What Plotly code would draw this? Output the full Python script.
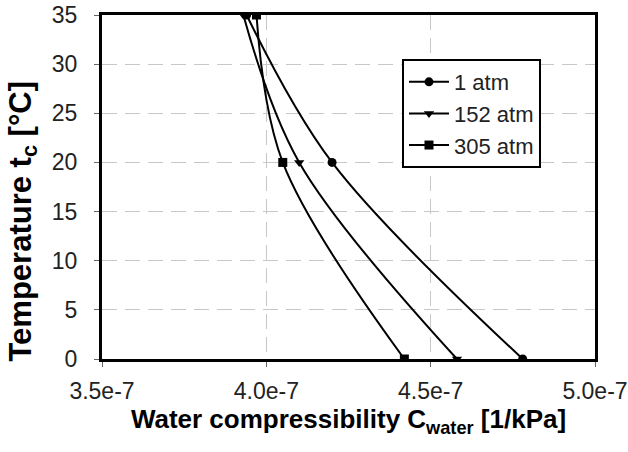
import plotly.graph_objects as go

temps = [0, 20, 35]
c_1atm = [4.78e-7, 4.20e-7, 3.94e-7]
c_152atm = [4.58e-7, 4.10e-7, 3.93e-7]
c_305atm = [4.42e-7, 4.05e-7, 3.97e-7]

series = [
    ("1 atm", c_1atm, "circle"),
    ("152 atm", c_152atm, "triangle-down"),
    ("305 atm", c_305atm, "square"),
]

x_ticks = [3.5e-7, 4.0e-7, 4.5e-7, 5.0e-7]
x_tick_labels = ["3.5e-7", "4.0e-7", "4.5e-7", "5.0e-7"]
y_ticks = [0, 5, 10, 15, 20, 25, 30, 35]

x_title = "<b>Water compressibility C<sub>water</sub> [1/kPa]</b>"
y_title = "<b>Temperature t<sub>c</sub> [°C]</b>"

FONT = "Liberation Sans, Arial, sans-serif"

fig = go.Figure()
for name, vals, sym in series:
    fig.add_trace(go.Scatter(
        x=vals, y=temps, name=name, mode="lines+markers",
        line=dict(color="black", width=2, shape="spline", smoothing=1.0),
        marker=dict(symbol=sym, size=9, color="black"),
    ))

fig.update_layout(
    width=628, height=452,
    margin=dict(l=102, r=33, t=15, b=93, autoexpand=False),
    paper_bgcolor="white", plot_bgcolor="white",
    font=dict(family=FONT, size=22, color="#222"),
    showlegend=True,
    legend=dict(
        x=0.6085, y=0.872, xanchor="left", yanchor="top",
        bordercolor="black", borderwidth=2, bgcolor="white",
        font=dict(family=FONT, size=22, color="#222"),
        itemwidth=40,
    ),
    annotations=[dict(
        text=y_title, textangle=-90, showarrow=False,
        xref="paper", yref="paper", x=-0.16, y=0.40,
        xanchor="center", yanchor="middle",
        font=dict(family=FONT, size=31, color="black"),
    )],
)
fig.update_xaxes(
    range=[3.5e-7, 5.0e-7], tickvals=x_ticks, ticktext=x_tick_labels,
    tickfont=dict(family=FONT, size=23, color="#222"),
    showline=True, linecolor="black", linewidth=3, mirror=True,
    ticks="outside", ticklen=5, tickcolor="#666", tickwidth=1,
    ticklabelstandoff=4, automargin=False,
    showgrid=True, gridcolor="#c8c8c8", griddash="15px,8px", gridwidth=1,
    zeroline=False,
    title=dict(text=x_title,
               font=dict(family=FONT, size=26, color="black"), standoff=8),
)
fig.update_yaxes(
    range=[0, 35], tickvals=y_ticks,
    tickfont=dict(family=FONT, size=23, color="#222"),
    showline=True, linecolor="black", linewidth=3, mirror=True,
    ticks="outside", ticklen=5, tickcolor="#666", tickwidth=1,
    ticklabelstandoff=12, automargin=False,
    showgrid=True, gridcolor="#c8c8c8", griddash="15px,8px", gridwidth=1,
    zeroline=False,
)

fig.write_html("out.html")
